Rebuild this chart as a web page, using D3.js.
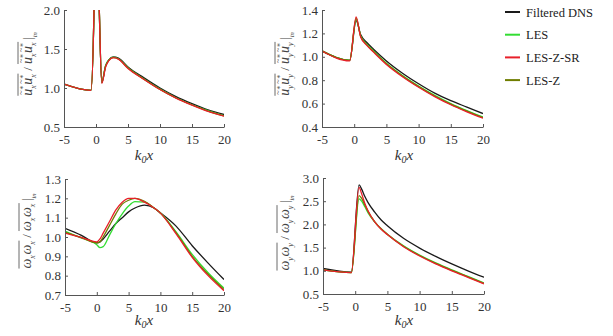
<!DOCTYPE html>
<html>
<head>
<meta charset="utf-8">
<script src="https://cdn.jsdelivr.net/npm/d3@7"></script>
<style>
  body { margin: 0; background: #fff; }
  svg text { font-family: "Liberation Serif", "Times New Roman", "DejaVu Serif", "Liberation Sans", serif; }
</style>
</head>
<body>
<div id="chart"></div>
<script>
// series names + colours
const seriesNames = ["Filtered DNS", "LES", "LES-Z-SR", "LES-Z"];
const seriesColors = ["#1a1a1a", "#33dd33", "#e8202a", "#6f7d00"];
const xTicks = [-5, 0, 5, 10, 15, 20];
const serif = "'Liberation Serif', 'Times New Roman', 'DejaVu Serif', 'Liberation Sans', serif";

// panel a : u_x u_x
const uxuxX = [-5, -0.8, -0.3, 0, 0.5, 0.9, 1.5, 2, 2.7, 3.5, 5, 7.5, 10, 12.5, 15, 17.5, 20];
const uxuxDNS = [1.05, 0.97, 2.05, 4.0, 2.05, 1.07, 1.28, 1.36, 1.40, 1.385, 1.27, 1.13, 1.00, 0.89, 0.80, 0.72, 0.66];
const uxuxLES = [1.05, 0.97, 2.05, 4.0, 2.05, 1.08, 1.29, 1.36, 1.395, 1.375, 1.26, 1.115, 0.985, 0.875, 0.785, 0.71, 0.645];
const uxuxLESZSR = [1.05, 0.97, 2.05, 4.0, 2.05, 1.06, 1.27, 1.35, 1.39, 1.37, 1.25, 1.11, 0.98, 0.87, 0.78, 0.70, 0.64];
const uxuxLESZ = [1.05, 0.97, 2.05, 4.0, 2.05, 1.07, 1.28, 1.355, 1.39, 1.372, 1.255, 1.112, 0.982, 0.872, 0.782, 0.705, 0.642];
const uxuxYTicks = [0.5, 1.0, 1.5, 2.0];

// panel b : u_y u_y
const uyuyX = [-5, -0.7, 0.3, 1, 2, 3, 5, 7.5, 10, 12.5, 15, 17.5, 20];
const uyuyDNS = [1.05, 0.97, 1.31, 1.19, 1.12, 1.065, 0.965, 0.86, 0.77, 0.69, 0.625, 0.57, 0.515];
const uyuyLES = [1.05, 0.97, 1.32, 1.18, 1.105, 1.05, 0.945, 0.84, 0.75, 0.67, 0.60, 0.54, 0.485];
const uyuyLESZSR = [1.05, 0.965, 1.34, 1.17, 1.095, 1.04, 0.935, 0.83, 0.74, 0.66, 0.59, 0.53, 0.475];
const uyuyLESZ = [1.05, 0.97, 1.33, 1.175, 1.10, 1.045, 0.94, 0.835, 0.745, 0.665, 0.595, 0.535, 0.48];
const uyuyYTicks = [0.4, 0.6, 0.8, 1.0, 1.2, 1.4];

// panel c : w_x w_x
const wxwxX = [-5, -2.5, 0, 0.5, 1, 2, 3, 4, 5, 6, 7.5, 9, 9.8, 12.5, 15, 17.5, 20];
const wxwxDNS = [1.045, 1.01, 0.97, 0.975, 0.99, 1.03, 1.07, 1.10, 1.13, 1.15, 1.165, 1.15, 1.13, 1.055, 0.955, 0.865, 0.78];
const wxwxLES = [1.03, 0.995, 0.96, 0.945, 0.95, 1.01, 1.07, 1.12, 1.16, 1.183, 1.18, 1.15, 1.13, 1.025, 0.91, 0.815, 0.735];
const wxwxLESZSR = [1.02, 0.998, 0.975, 0.99, 1.02, 1.08, 1.14, 1.18, 1.20, 1.20, 1.18, 1.15, 1.13, 1.015, 0.895, 0.80, 0.722];
const wxwxLESZ = [1.025, 0.998, 0.97, 0.975, 1.0, 1.06, 1.12, 1.17, 1.19, 1.20, 1.185, 1.15, 1.13, 1.02, 0.90, 0.807, 0.728];
const wxwxYTicks = [0.7, 0.8, 0.9, 1.0, 1.1, 1.2, 1.3];

// panel d : w_y w_y
const wywyX = [-5, -0.6, 0.6, 1, 1.5, 2, 3, 4, 5, 7.5, 10, 12.5, 15, 17.5, 20];
const wywyDNS = [1.05, 0.97, 2.85, 2.76, 2.60, 2.47, 2.27, 2.10, 1.97, 1.70, 1.49, 1.31, 1.15, 1.00, 0.86];
const wywyLES = [1.02, 0.96, 2.55, 2.50, 2.38, 2.25, 2.06, 1.91, 1.79, 1.54, 1.34, 1.17, 1.02, 0.88, 0.74];
const wywyLESZSR = [1.02, 0.96, 2.80, 2.66, 2.45, 2.29, 2.06, 1.90, 1.78, 1.52, 1.32, 1.15, 1.00, 0.86, 0.72];
const wywyLESZ = [1.02, 0.96, 2.62, 2.56, 2.42, 2.28, 2.06, 1.905, 1.785, 1.53, 1.33, 1.16, 1.01, 0.87, 0.73];
const wywyYTicks = [0.5, 1.0, 1.5, 2.0, 2.5, 3.0];

const W = 613, H = 336;
const svg = d3.select("#chart").append("svg")
    .attr("width", W)
    .attr("height", H);

// panel boxes in pixels [x0, x1, y0, y1]
const panels = [
    { id: "a", box: [64, 224, 10, 127], xs: uxuxX, ys: [uxuxDNS, uxuxLES, uxuxLESZSR, uxuxLESZ], yd: [0.5, 2.0], yt: uxuxYTicks, sym: "u", sub: "x", lab: [27, 64], kx: [144, 160] },
    { id: "b", box: [322, 483, 10, 127], xs: uyuyX, ys: [uyuyDNS, uyuyLES, uyuyLESZSR, uyuyLESZ], yd: [0.4, 1.4], yt: uyuyYTicks, sym: "u", sub: "y", lab: [284, 64], kx: [404, 160] },
    { id: "c", box: [65, 224, 179, 295], xs: wxwxX, ys: [wxwxDNS, wxwxLES, wxwxLESZSR, wxwxLESZ], yd: [0.7, 1.3], yt: wxwxYTicks, sym: "w", sub: "x", lab: [26, 231], kx: [144, 325] },
    { id: "d", box: [323, 484, 178, 294], xs: wywyX, ys: [wywyDNS, wywyLES, wywyLESZSR, wywyLESZ], yd: [0.5, 3.0], yt: wywyYTicks, sym: "w", sub: "y", lab: [284, 233], kx: [404, 325] }
];

// draw order : DNS, LES, LES-Z, LES-Z-SR on top
const drawOrder = [0, 1, 3, 2];

/*** y label : overline(a a) / overline(a a) |in ***/
function mathLabel(p) {
    const g = svg.append("g")
        .attr("transform", "translate(" + p.lab[0] + "," + p.lab[1] + ") rotate(-90)");
    const inner = g.append("g");
    let cur = 0;
    const put = (txt, x, y, size, italic) => {
        const t = inner.append("text")
            .attr("x", x).attr("y", y)
            .attr("fill", "#444")
            .style("font-family", serif)
            .style("font-size", size + "px")
            .style("font-style", italic ? "italic" : "normal")
            .text(txt);
        return t.node().getComputedTextLength();
    };
    const isU = p.sym === "u";
    const base = isU ? "u" : "\u03C9";
    const product = () => {
        const start = cur;
        for (let k = 0; k < 2; k++) {
            const bw = put(base, cur, 0, 14, true);
            if (isU) {
                put("~", cur + 1, -8, 8, false);
                put("*", cur + bw - 1, -6, 8, false);
            }
            cur += bw;
            cur += put(p.sub, cur, 4, 8, true) + 0.5;
        }
        inner.append("line")
            .attr("x1", start).attr("x2", cur)
            .attr("y1", isU ? -14 : -12).attr("y2", isU ? -14 : -12)
            .attr("stroke", "#444").attr("stroke-width", 0.8);
    };
    product();
    cur += put("/", cur + 3, 0, 13, false) + 6;
    product();
    cur += 2;
    cur += put("|", cur, 0, 13, false);
    cur += put("in", cur, 5, 6.5, true);
    inner.attr("transform", "translate(" + (-cur / 2) + ",5)");
}

panels.forEach(p => {
    const [x0, x1, y0, y1] = p.box;
    const x = d3.scaleLinear().domain([-5, 20]).range([x0, x1]);
    const y = d3.scaleLinear().domain(p.yd).range([y1, y0]);

    //clip
    svg.append("clipPath").attr("id", "clip-" + p.id)
        .append("rect")
        .attr("x", x0).attr("y", y0)
        .attr("width", x1 - x0).attr("height", y1 - y0);

    const line = d3.line()
        .x(d => x(d[0]))
        .y(d => y(d[1]))
        .curve(d3.curveMonotoneX);

    const g = svg.append("g").attr("clip-path", "url(#clip-" + p.id + ")");
    drawOrder.forEach(i => {
        g.append("path")
            .datum(p.xs.map((v, j) => [v, p.ys[i][j]]))
            .attr("d", line)
            .attr("fill", "none")
            .attr("stroke", seriesColors[i])
            .attr("stroke-width", 1.3);
    });

    //axes
    const xAxis = svg.append("g")
        .attr("transform", "translate(0," + y1 + ")")
        .call(d3.axisBottom(x).tickValues(xTicks)
            .tickSizeInner(-3).tickSizeOuter(0).tickPadding(8));
    const yAxis = svg.append("g")
        .attr("transform", "translate(" + x0 + ",0)")
        .call(d3.axisLeft(y).tickValues(p.yt).tickFormat(d3.format(".1f"))
            .tickSizeInner(-3).tickSizeOuter(0).tickPadding(4));
    [xAxis, yAxis].forEach(a => {
        a.attr("font-family", null);
        a.select(".domain").attr("stroke", "#555");
        a.selectAll(".tick line").attr("stroke", "#555");
        a.selectAll(".tick text")
            .attr("fill", "#333")
            .style("font-size", "13px")
            .style("font-family", serif);
    });
    xAxis.selectAll(".tick text").text(d => d < 0 ? "-" + Math.abs(d) : d);

    // x label k0x
    const kx = svg.append("text")
        .attr("x", p.kx[0]).attr("y", p.kx[1])
        .attr("text-anchor", "middle")
        .attr("fill", "#333")
        .style("font-family", serif)
        .style("font-size", "15px")
        .style("font-style", "italic");
    kx.append("tspan").text("k");
    kx.append("tspan").attr("dy", 3).style("font-size", "10px").text("0");
    kx.append("tspan").attr("dy", -3).text("x");

    mathLabel(p);
});

// legend
const legend = svg.append("g");
seriesNames.forEach((n, i) => {
    const ly = 12 + i * 22.7;
    legend.append("line")
        .attr("x1", 505).attr("x2", 520)
        .attr("y1", ly).attr("y2", ly)
        .attr("stroke", seriesColors[i])
        .attr("stroke-width", 2);
    legend.append("text")
        .attr("x", 526).attr("y", ly + 4.5)
        .attr("fill", "#222")
        .style("font-family", serif)
        .style("font-size", "12.5px")
        .text(n);
});
</script>
</body>
</html>
